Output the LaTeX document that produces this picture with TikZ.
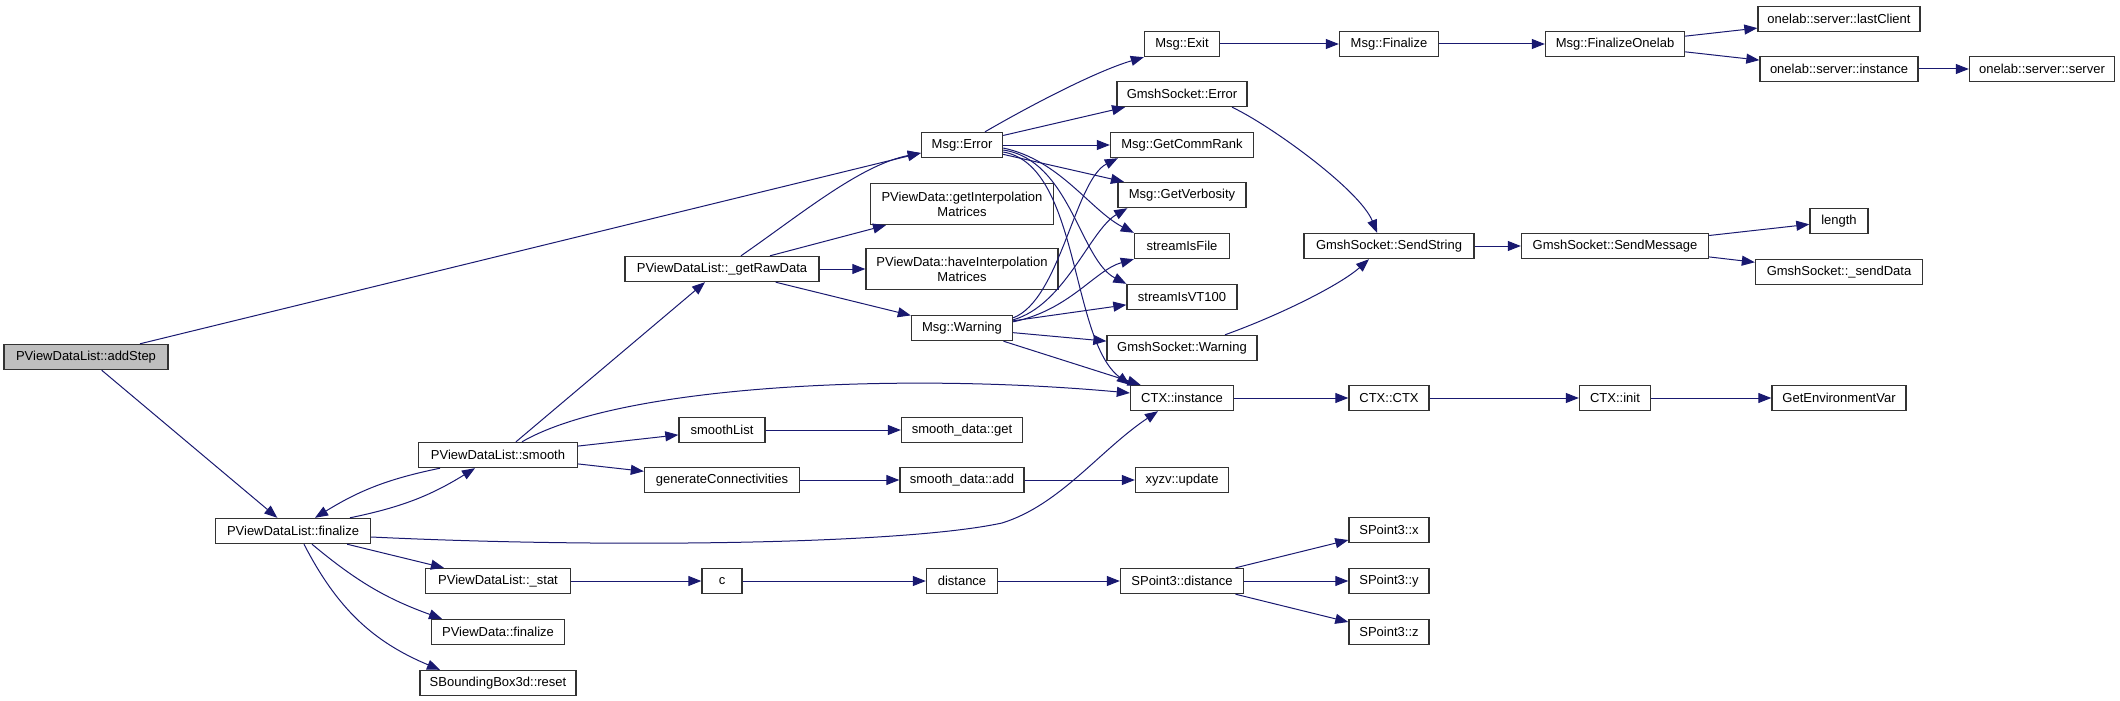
\documentclass[tikz,border=0pt]{standalone}
\usepackage{fontspec}
\setmainfont{Liberation Sans}
\usetikzlibrary{arrows.meta}
\definecolor{edgeblue}{HTML}{191970}
\begin{document}
\begin{tikzpicture}[x=1pt,y=-1pt,
  fn/.style={draw=black!80,line width=1.4pt,fill=white,minimum height=25pt,
    inner sep=0pt,align=center,font=\fontsize{13}{15}\selectfont},
  call/.style={draw=edgeblue,line width=1pt,-{Triangle[length=13pt,width=10pt]}}]
  \useasboundingbox (0,0) rectangle (2120,701);
  % rank 0 - 2
  \node[fn,fill=black!25,minimum width=164pt] (addStep) at (86,357) {PViewDataList::addStep};
  \node[fn,minimum width=155pt] (finalize) at (293,531) {PViewDataList::finalize};
  \node[fn,minimum width=159pt] (smooth) at (498,455) {PViewDataList::smooth};
  \node[fn,minimum width=145pt] (stat) at (498,581) {PViewDataList::\_stat};
  \node[fn,minimum width=133pt] (pvfinalize) at (498,632) {PViewData::finalize};
  \node[fn,minimum width=156pt] (bbreset) at (498,683) {SBoundingBox3d::reset};
  % rank 3 - 4
  \node[fn,minimum width=194pt] (rawdata) at (722,269) {PViewDataList::\_getRawData};
  \node[fn,minimum width=86pt] (smoothlist) at (722,430) {smoothList};
  \node[fn,minimum width=155pt] (genconn) at (722,480) {generateConnectivities};
  \node[fn,minimum width=40pt] (cfun) at (722,581) {c};
  \node[fn,minimum width=81pt] (msgerror) at (962,145) {Msg::Error};
  \node[fn,minimum width=183pt,minimum height=41pt] (getinterp) at (962,204) {PViewData::getInterpolation\\Matrices};
  \node[fn,minimum width=192pt,minimum height=41pt] (haveinterp) at (962,269) {PViewData::haveInterpolation\\Matrices};
  \node[fn,minimum width=101pt] (msgwarning) at (962,328) {Msg::Warning};
  \node[fn,minimum width=121pt] (sdget) at (962,430) {smooth\_data::get};
  \node[fn,minimum width=124pt] (sdadd) at (962,480) {smooth\_data::add};
  \node[fn,minimum width=71pt] (dist) at (962,581) {distance};
  % rank 5
  \node[fn,minimum width=75pt] (msgexit) at (1182,44) {Msg::Exit};
  \node[fn,minimum width=130pt] (gserror) at (1182,94) {GmshSocket::Error};
  \node[fn,minimum width=143pt] (commrank) at (1182,145) {Msg::GetCommRank};
  \node[fn,minimum width=128pt] (verbosity) at (1182,195) {Msg::GetVerbosity};
  \node[fn,minimum width=95pt] (isfile) at (1182,246) {streamIsFile};
  \node[fn,minimum width=110pt] (isvt) at (1182,297) {streamIsVT100};
  \node[fn,minimum width=150pt] (gswarning) at (1182,348) {GmshSocket::Warning};
  \node[fn,minimum width=103pt] (ctxinst) at (1182,398) {CTX::instance};
  \node[fn,minimum width=93pt] (xyzv) at (1182,480) {xyzv::update};
  \node[fn,minimum width=123pt] (spdist) at (1182,581) {SPoint3::distance};
  % rank 6 - 9
  \node[fn,minimum width=99pt] (msgfinalize) at (1389,44) {Msg::Finalize};
  \node[fn,minimum width=170pt] (sendstring) at (1389,246) {GmshSocket::SendString};
  \node[fn,minimum width=80pt] (ctxctx) at (1389,398) {CTX::CTX};
  \node[fn,minimum width=80pt] (spx) at (1389,530) {SPoint3::x};
  \node[fn,minimum width=80pt] (spy) at (1389,581) {SPoint3::y};
  \node[fn,minimum width=80pt] (spz) at (1389,632) {SPoint3::z};
  \node[fn,minimum width=139pt] (finonelab) at (1615,44) {Msg::FinalizeOnelab};
  \node[fn,minimum width=187pt] (sendmessage) at (1615,246) {GmshSocket::SendMessage};
  \node[fn,minimum width=71pt] (ctxinit) at (1615,398) {CTX::init};
  \node[fn,minimum width=162pt] (lastclient) at (1839,19) {onelab::server::lastClient};
  \node[fn,minimum width=158pt] (olinst) at (1839,69) {onelab::server::instance};
  \node[fn,minimum width=58pt] (length) at (1839,221) {length};
  \node[fn,minimum width=167pt] (senddata) at (1839,272) {GmshSocket::\_sendData};
  \node[fn,minimum width=134pt] (getenv) at (1839,398) {GetEnvironmentVar};
  \node[fn,minimum width=145pt] (olserver) at (2042,69) {onelab::server::server};
  % calls
  \draw[call] (addStep) -- ([yshift=-8pt]msgerror.west);
  \draw[call] (addStep) -- (finalize);
  \draw[call] ([xshift=57pt]finalize.north) to[bend right=10] ([xshift=-23pt]smooth.south);
  \draw[call] ([xshift=-58pt]smooth.south) to[bend right=10] ([xshift=22pt]finalize.north);
  \draw[call] ([yshift=-6pt]finalize.east) .. controls (600,548) and (900,545) .. (1002,523)
    .. controls (1060,505) and (1100,450) .. ([xshift=-24pt]ctxinst.south);
  \draw[call] (finalize) -- (stat);
  \draw[call] ([xshift=19pt]finalize.south) to[bend right=10] ([xshift=-56pt]pvfinalize.north);
  \draw[call] ([xshift=11pt]finalize.south) to[bend right=20] ([xshift=-58pt]bbreset.north);
  \draw[call] ([xshift=18pt]smooth.north) -- ([xshift=-17pt]rawdata.south);
  \draw[call] ([xshift=24pt]smooth.north) .. controls (620,385) and (900,372) .. ([yshift=5pt]ctxinst.west);
  \draw[call] (smooth) -- (smoothlist);
  \draw[call] (smooth) -- (genconn);
  \draw[call] ([xshift=19pt]rawdata.north) .. controls (800,215) and (860,165) .. ([yshift=-8pt]msgerror.west);
  \draw[call] ([xshift=48pt]rawdata.north) -- ([xshift=-76pt]getinterp.south);
  \draw[call] (rawdata) -- (haveinterp);
  \draw[call] (rawdata) -- (msgwarning);
  \draw[call] ([xshift=23pt]msgerror.north) .. controls (1040,100) and (1100,70) .. (msgexit.south west);
  \draw[call] (msgerror) -- (gserror);
  \draw[call] (msgerror) -- (commrank);
  \draw[call] (msgerror) -- (verbosity);
  \draw[call] ([yshift=-3pt]msgerror.east) .. controls (1060,160) and (1090,210) .. (isfile.north west);
  \draw[call] ([yshift=-5pt]msgerror.east) .. controls (1070,160) and (1080,260) .. (isvt.north west);
  \draw[call] ([yshift=-7pt]msgerror.east) .. controls (1080,165) and (1070,340) .. (ctxinst.north west);
  \draw[call] ([yshift=-3pt]msgwarning.north east) .. controls (1060,300) and (1075,180) .. ([xshift=8pt]commrank.south west);
  \draw[call] ([yshift=-5pt]msgwarning.north east) .. controls (1065,305) and (1090,230) .. ([xshift=10pt]verbosity.south west);
  \draw[call] ([yshift=-7pt]msgwarning.north east) .. controls (1070,310) and (1095,270) .. (isfile.south west);
  \draw[call] (msgwarning) -- (isvt);
  \draw[call] (msgwarning) -- (gswarning);
  \draw[call] (msgwarning) -- (ctxinst);
  \draw[call] (msgexit) -- (msgfinalize);
  \draw[call] (msgfinalize) -- (finonelab);
  \draw[call] (finonelab) -- (lastclient);
  \draw[call] (finonelab) -- (olinst);
  \draw[call] (olinst) -- (olserver);
  \draw[call] ([xshift=50pt]gserror.south) .. controls (1270,125) and (1360,190) .. ([xshift=-12pt]sendstring.north);
  \draw[call] ([xshift=43pt]gswarning.north) .. controls (1280,315) and (1340,285) .. ([xshift=-20pt]sendstring.south);
  \draw[call] (sendstring) -- (sendmessage);
  \draw[call] (sendmessage) -- (length);
  \draw[call] (sendmessage) -- (senddata);
  \draw[call] (ctxinst) -- (ctxctx);
  \draw[call] (ctxctx) -- (ctxinit);
  \draw[call] (ctxinit) -- (getenv);
  \draw[call] (smoothlist) -- (sdget);
  \draw[call] (genconn) -- (sdadd);
  \draw[call] (sdadd) -- (xyzv);
  \draw[call] (stat) -- (cfun);
  \draw[call] (cfun) -- (dist);
  \draw[call] (dist) -- (spdist);
  \draw[call] (spdist) -- (spx);
  \draw[call] (spdist) -- (spy);
  \draw[call] (spdist) -- (spz);
\end{tikzpicture}
\end{document}
